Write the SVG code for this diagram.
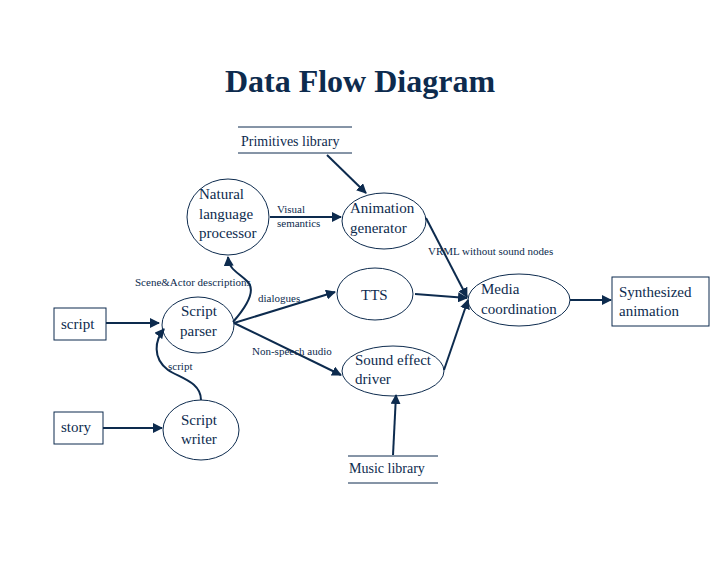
<svg xmlns="http://www.w3.org/2000/svg" width="720" height="576" viewBox="0 0 720 576">
<style>
text{font-family:"Liberation Serif","Times New Roman",serif;fill:#0d2b4e}
.n{font-size:15px}
.l{font-size:11px}
.s{fill:none;stroke:#0d2b4e;stroke-width:1}
.c{fill:none;stroke:#0d2b4e;stroke-width:2}
</style>
<defs><marker id="a" viewBox="0 0 10 10" refX="9" refY="5" markerWidth="5" markerHeight="5" orient="auto"><path d="M0,0L10,5L0,10z" fill="#0d2b4e"/></marker></defs>
<rect width="720" height="576" fill="#fff"/>
<text x="360" y="92" text-anchor="middle" style="font-size:32px;font-weight:bold">Data Flow Diagram</text>
<g id="primitives"><line class="s" x1="238" y1="127" x2="352" y2="127"/><line class="s" x1="238" y1="153" x2="352" y2="153"/><text class="n" x="241" y="146" style="font-size:14px">Primitives library</text></g>
<g id="nlp"><ellipse class="s" cx="228" cy="217" rx="41" ry="38"/><text class="n" x="199" y="199">Natural</text><text class="n" x="199" y="219">language</text><text class="n" x="199" y="238">processor</text></g>
<g id="anim"><ellipse class="s" cx="384" cy="221" rx="42" ry="28"/><text class="n" x="350" y="213">Animation</text><text class="n" x="350" y="233">generator</text></g>
<g id="script"><rect class="s" x="54" y="308" width="52" height="32"/><text class="n" x="61" y="329">script</text></g>
<g id="story"><rect class="s" x="54" y="412" width="49" height="32"/><text class="n" x="61" y="432">story</text></g>
<g id="parser"><ellipse class="s" cx="198" cy="325" rx="36" ry="28"/><text class="n" x="181" y="316">Script</text><text class="n" x="180" y="336">parser</text></g>
<g id="writer"><ellipse class="s" cx="201" cy="430" rx="38" ry="30"/><text class="n" x="181" y="425">Script</text><text class="n" x="181" y="444">writer</text></g>
<g id="tts"><ellipse class="s" cx="375" cy="294" rx="38" ry="26"/><text class="n" x="361" y="300">TTS</text></g>
<g id="sound"><ellipse class="s" cx="393" cy="371" rx="51" ry="25"/><text class="n" x="355" y="365">Sound effect</text><text class="n" x="355" y="384">driver</text></g>
<g id="media"><ellipse class="s" cx="519" cy="300" rx="51" ry="26"/><text class="n" x="481" y="294">Media</text><text class="n" x="481" y="314">coordination</text></g>
<g id="synth"><rect class="s" x="612" y="277" width="97" height="49"/><text class="n" x="619" y="297">Synthesized</text><text class="n" x="619" y="316">animation</text></g>
<g id="music"><line class="s" x1="348" y1="456" x2="438" y2="456"/><line class="s" x1="348" y1="483" x2="438" y2="483"/><text class="n" x="349" y="473" style="font-size:14px">Music library</text></g>
<g id="connectors">
<line class="c" x1="106" y1="323" x2="159" y2="323" marker-end="url(#a)"/>
<line class="c" x1="103" y1="428" x2="162" y2="428" marker-end="url(#a)"/>
<path class="c" d="M201,400 C201,382 180,378 168,370 C152,358 155,340 164,329" marker-end="url(#a)"/>
<path class="c" d="M233,322 C248,305 255,290 248,282 C238,272 229,270 228,257" marker-end="url(#a)"/>
<line class="c" x1="234" y1="323" x2="335" y2="292" marker-end="url(#a)"/>
<line class="c" x1="234" y1="323" x2="341" y2="375" marker-end="url(#a)"/>
<line class="c" x1="270" y1="217" x2="341" y2="217" marker-end="url(#a)"/>
<line class="c" x1="327" y1="155" x2="366" y2="193" marker-end="url(#a)"/>
<line class="c" x1="426" y1="218" x2="467" y2="297" marker-end="url(#a)"/>
<line class="c" x1="415" y1="294" x2="467" y2="298" marker-end="url(#a)"/>
<line class="c" x1="444" y1="370" x2="468" y2="300" marker-end="url(#a)"/>
<line class="c" x1="570" y1="300" x2="611" y2="300" marker-end="url(#a)"/>
<line class="c" x1="393" y1="455" x2="396" y2="395" marker-end="url(#a)"/>
</g>
<g id="labels">
<text class="l" x="277" y="213">Visual</text><text class="l" x="277" y="227">semantics</text>
<text class="l" x="428" y="255">VRML without sound nodes</text>
<text class="l" x="135" y="286">Scene&amp;Actor descriptions</text>
<text class="l" x="258" y="302">dialogues</text>
<text class="l" x="252" y="355">Non-speech audio</text>
<text class="l" x="168" y="370">script</text>
</g>
</svg>
